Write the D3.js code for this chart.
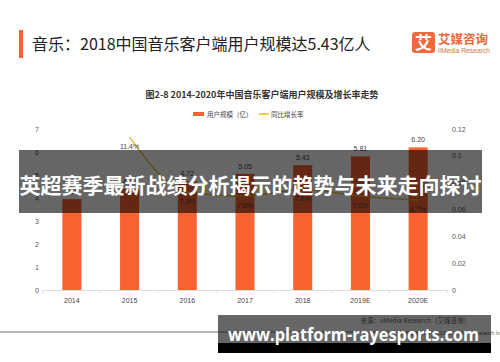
<!DOCTYPE html>
<html><head><meta charset="utf-8">
<script src="https://cdn.jsdelivr.net/npm/d3@7"></script>
<style>
html,body{margin:0;padding:0;background:#fff;}
svg{display:block;}
text{font-family:"Liberation Sans","Noto Sans CJK SC",sans-serif;}
</style></head>
<body>
<svg id="c" width="500" height="362"></svg>
<script>
const categories = ["2014","2015","2016","2017","2018","2019E","2020E"];
const users = [3.95, 4.40, 4.72, 5.05, 5.43, 5.81, 6.20];
const userLabels = ["3.95","4.40","4.72","5.05","5.43","5.81","6.20"];
const growth = [null, 0.114, 0.073, 0.070, 0.075, 0.070, 0.067];
const growthLabels = ["", "11.4%", "7.3%", "7.0%", "7.5%", "7.0%", "6.7%"];
const leftTicks = [0,1,2,3,4,5,6,7];
const rightTicks = [0,0.02,0.04,0.06,0.08,0.1,0.12];
const rightTickLabels = ["0","0.02","0.04","0.06","0.08","0.1","0.12"];

const svg = d3.select("#c");
const CJK = '"Noto Sans CJK SC","Liberation Sans",sans-serif';

// header
svg.append("rect").attr("x",19).attr("y",30).attr("width",4).attr("height",28).attr("fill","#f0643a");
svg.append("text").attr("x",32).attr("y",49.5).attr("font-size",16).attr("fill","#222")
  .style("font-family",CJK).text("音乐：2018中国音乐客户端用户规模达5.43亿人");
// logo
svg.append("rect").attr("x",412).attr("y",32).attr("width",23).attr("height",21).attr("rx",3).attr("fill","#ee6a3c");
svg.append("text").attr("x",423.5).attr("y",48.5).attr("text-anchor","middle").attr("font-size",17).attr("font-weight","bold")
  .attr("fill","#fff").style("font-family",CJK).text("艾");
svg.append("text").attr("x",438).attr("y",44).attr("font-size",12.5).attr("font-weight","bold").attr("fill","#e8673c")
  .style("font-family",CJK).text("艾媒咨询");
svg.append("text").attr("x",438).attr("y",53).attr("font-size",6.6).attr("fill","#d0764f")
  .attr("textLength",52).attr("lengthAdjust","spacingAndGlyphs").text("iiMedia Research");

// subtitle
svg.append("text").attr("x",262).attr("y",98).attr("text-anchor","middle").attr("font-size",9).attr("font-weight","bold")
  .attr("fill","#333").style("font-family",CJK).text("图2-8  2014-2020年中国音乐客户端用户规模及增长率走势");

// legend
svg.append("rect").attr("x",193).attr("y",112).attr("width",11).attr("height",4).attr("fill","#f96332");
svg.append("text").attr("x",207).attr("y",116.5).attr("font-size",6.5).attr("fill","#444").style("font-family",CJK).text("用户规模（亿）");
svg.append("line").attr("x1",259).attr("x2",269).attr("y1",114).attr("y2",114).attr("stroke","#f2c12e").attr("stroke-width",1.6);
svg.append("text").attr("x",271).attr("y",116.5).attr("font-size",6.5).attr("fill","#444").style("font-family",CJK).text("同比增长率");

// scales
const x0 = 43, x1 = 447, yBase = 290, yTop = 129;
const xOuter = d3.scaleBand().domain(categories).range([x0,x1]).padding(0);
const xBar = d3.scaleBand().domain(categories).range([x0,x1]).paddingInner(0.67).paddingOuter(0.335);
const yL = d3.scaleLinear().domain([0,7]).range([yBase,yTop]);
const yR = d3.scaleLinear().domain([0,0.12]).range([yBase,yTop]);

// left axis labels
svg.append("g").selectAll("text").data(leftTicks).join("text")
  .attr("x",37).attr("y",d=>yL(d)+2.5).attr("text-anchor","middle").attr("font-size",7).attr("fill","#555").text(d=>d);
// right axis labels
svg.append("g").selectAll("text").data(rightTicks).join("text")
  .attr("x",452).attr("y",d=>yR(d)+2.5).attr("font-size",7).attr("fill","#555").text((d,i)=>rightTickLabels[i]);

// bars
svg.append("g").selectAll("rect").data(users).join("rect")
  .attr("x",(d,i)=>xBar(categories[i])).attr("width",xBar.bandwidth())
  .attr("y",d=>yL(d)).attr("height",d=>yBase-yL(d)).attr("fill","#f96332");
svg.append("g").selectAll("text").data(users).join("text")
  .attr("x",(d,i)=>xOuter(categories[i])+xOuter.bandwidth()/2).attr("y",d=>yL(d)-5)
  .attr("text-anchor","middle").attr("font-size",7).attr("fill","#444").text((d,i)=>userLabels[i]);

// x axis
const xa = svg.append("g").attr("transform",`translate(0,${yBase})`)
  .call(d3.axisBottom(xOuter).tickSize(0).tickPadding(8));
xa.select(".domain").attr("stroke","#ddd");
xa.selectAll("text").attr("font-size",7).attr("fill","#444").style("font-family",'"Liberation Sans",sans-serif');
const bounds = categories.map(c=>xOuter(c)).concat([x1]);
svg.append("g").selectAll("line").data(bounds).join("line")
  .attr("x1",d=>d).attr("x2",d=>d).attr("y1",yBase).attr("y2",yBase+3).attr("stroke","#ddd");

// growth line
const pts = growth.map((g,i)=>({g,c:categories[i],l:growthLabels[i]})).filter(p=>p.g!==null);
const line = d3.line().x(p=>xOuter(p.c)+xOuter.bandwidth()/2).y(p=>yR(p.g)).curve(d3.curveMonotoneX);
svg.append("path").datum(pts).attr("d",line).attr("fill","none").attr("stroke","#e6b828").attr("stroke-width",1.3);
svg.append("g").selectAll("text").data(pts).join("text")
  .attr("x",p=>xOuter(p.c)+xOuter.bandwidth()/2).attr("y",p=>yR(p.g)+12)
  .attr("text-anchor","middle").attr("font-size",7).attr("fill","#444").text(p=>p.l);

// footer
svg.append("line").attr("x1",0).attr("x2",440).attr("y1",332).attr("y2",332).attr("stroke","#bbb").attr("stroke-width",2);
svg.append("text").attr("x",470).attr("y",323).attr("text-anchor","end").attr("font-size",6.5).attr("fill","#666")
  .style("font-family",CJK).text("来源：iiMedia Research（艾媒咨询）");
svg.append("text").attr("x",504).attr("y",335).attr("text-anchor","end").attr("font-size",6).attr("fill","#666")
  .text("Copyright © 2019 iiMedia Research Inc");

// overlay band
svg.append("rect").attr("x",19).attr("y",150).attr("width",463).attr("height",63).attr("fill","rgba(0,0,0,0.6)");
svg.append("text").attr("x",250.5).attr("y",193).attr("text-anchor","middle").attr("font-size",21).attr("font-weight","bold")
  .attr("fill","#fff").style("font-family",CJK).text("英超赛季最新战绩分析揭示的趋势与未来走向探讨");

// bottom box
svg.append("rect").attr("x",218).attr("y",315).attr("width",273).attr("height",28).attr("fill","rgba(0,0,0,0.6)");
svg.append("rect").attr("x",218).attr("y",343).attr("width",273).attr("height",10).attr("fill","#000");
svg.append("text").attr("x",228).attr("y",341).attr("font-size",17).attr("font-weight","bold").attr("fill","#fff")
  .attr("textLength",251).attr("lengthAdjust","spacingAndGlyphs")
  .style("font-family",'"Open Sans","DejaVu Sans",sans-serif').text("www.platform-rayesports.com");
</script>
</body></html>
